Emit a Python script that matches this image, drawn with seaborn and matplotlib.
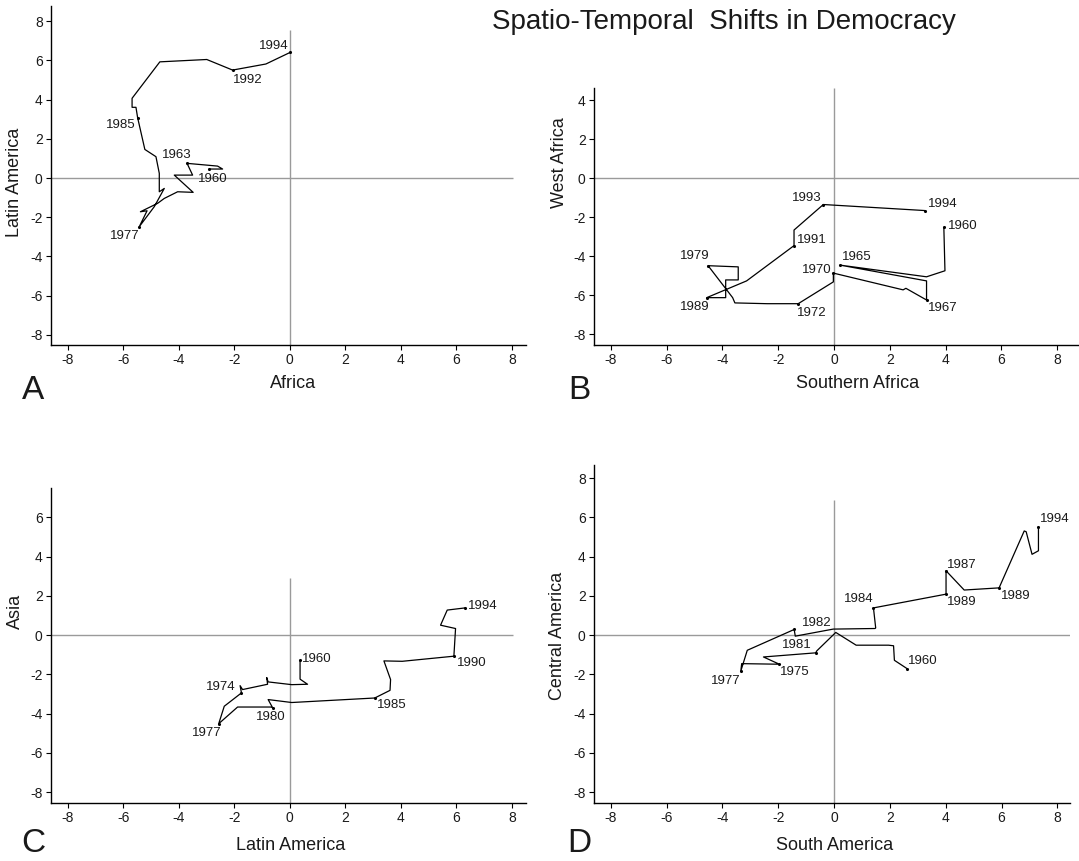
import matplotlib
matplotlib.use("Agg")
import matplotlib.pyplot as plt
import seaborn as sns
import pandas as pd

# ---------------- data ----------------
A_x = [-2.90, -2.42, -2.60, -3.70, -3.50, -4.16, -3.48, -4.04, -4.52, -4.76, -5.38, -5.14, -5.42, -4.88,
       -4.52, -4.70, -4.70, -4.82, -5.22, -5.48, -5.54, -5.68, -5.68, -4.68, -2.99, -2.06, -0.86, 0.01]
A_y = [0.46, 0.46, 0.61, 0.75, 0.15, 0.15, -0.73, -0.70, -1.04, -1.29, -1.72, -1.67, -2.48, -1.46,
       -0.53, -0.70, 0.24, 1.09, 1.46, 3.08, 3.61, 3.61, 4.07, 5.93, 6.05, 5.51, 5.82, 6.41]
A_lab_year = ["1960", "1963", "1977", "1985", "1992", "1994"]
A_lab_idx = [0, 3, 12, 19, 25, 27]

B_x = [3.94, 3.98, 3.32, 0.22, 3.32, 3.32, 2.58, 2.48, -0.02, -0.02, -1.28, -2.39, -3.55, -3.63,
       -4.51, -3.43, -3.43, -3.88, -3.88, -4.56, -3.13, -1.43, -1.43, -0.38, 3.26]
B_y = [-2.51, -4.74, -5.05, -4.45, -5.26, -6.24, -5.64, -5.72, -4.86, -5.31, -6.43, -6.43, -6.39, -6.12,
       -4.48, -4.54, -5.21, -5.21, -6.12, -6.12, -5.26, -3.45, -2.65, -1.34, -1.65]
B_lab_year = ["1960", "1965", "1967", "1970", "1972", "1979", "1989", "1991", "1993", "1994"]
B_lab_idx = [0, 3, 5, 8, 10, 14, 19, 21, 23, 24]

C_x = [0.37, 0.37, 0.64, 0.07, -0.78, -0.83, -0.80, -1.70, -1.79, -1.74, -2.36, -2.56, -1.88, -0.68,
       -0.62, -0.78, 0.07, 3.06, 3.61, 3.63, 3.39, 4.05, 5.91, 5.97, 5.43, 5.67, 6.31]
C_y = [-1.28, -2.24, -2.50, -2.52, -2.38, -2.16, -2.50, -2.77, -2.57, -2.94, -3.62, -4.51, -3.66, -3.66,
       -3.69, -3.28, -3.43, -3.20, -2.81, -2.26, -1.31, -1.33, -1.07, 0.34, 0.51, 1.28, 1.39]
C_lab_year = ["1960", "1974", "1977", "1980", "1985", "1990", "1994"]
C_lab_idx = [0, 9, 11, 14, 17, 22, 26]

D_x = [2.61, 2.16, 2.13, 1.95, 0.79, 0.06, -0.62, -0.66, -2.53, -1.96, -3.31, -3.34, -3.11, -1.43,
       -1.39, -0.03, 1.47, 1.49, 1.41, 4.01, 4.01, 4.66, 5.91, 6.81, 6.88, 7.09, 7.32, 7.32]
D_y = [-1.70, -1.28, -0.54, -0.51, -0.51, 0.14, -0.80, -0.90, -1.11, -1.48, -1.45, -1.82, -0.77, 0.29,
       -0.05, 0.31, 0.34, 0.37, 1.39, 2.09, 3.28, 2.30, 2.41, 5.31, 5.27, 4.12, 4.30, 5.53]
D_lab_year = ["1960", "1981", "1975", "1977", "1982", "1984", "1989", "1987", "1989", "1994"]
D_lab_idx = [0, 7, 9, 11, 13, 18, 19, 20, 22, 27]

x_titles = ["Africa", "Southern Africa", "Latin America", "South America"]
y_titles = ["Latin America", "West Africa", "Asia", "Central America"]
panel_letters = ["A", "B", "C", "D"]
tick_vals_x = [-8, -6, -4, -2, 0, 2, 4, 6, 8]
tick_vals_y = [[-8, -6, -4, -2, 0, 2, 4, 6, 8], [-8, -6, -4, -2, 0, 2, 4],
               [-8, -6, -4, -2, 0, 2, 4, 6], [-8, -6, -4, -2, 0, 2, 4, 6, 8]]
title = "Spatio-Temporal  Shifts in Democracy"

# ---------------- styling / layout ----------------
sns.set_theme(style="ticks")
plt.rcParams["font.family"] = ["Liberation Sans", "DejaVu Sans"]
plt.rcParams["axes.unicode_minus"] = False
TXT = "#1a1a1a"

W, H = 1079, 861
fig = plt.figure(figsize=(W / 100, H / 100), dpi=100)


def fx(px):
    return px / W


def fy(py):
    return 1 - py / H


# pixel boxes: left, right, top, bottom ; xlim ; ylim
boxes = [
    (51, 525.8, 6, 345, (-8.6, 8.5), (-8.52, 8.78)),
    (594, 1097, 88, 345, (-8.6, 9.43), (-8.55, 4.64)),
    (51, 525.8, 488, 803, (-8.6, 8.5), (-8.55, 7.5)),
    (594, 1070, 465, 803, (-8.6, 8.45), (-8.55, 8.67)),
]
# zero-line extents (data)
hline_right = [8.05, 9.43, 8.05, 8.45]
vline_top = [7.55, 4.64, 2.9, 6.9]

xlab_center = [(293, 384), (858, 384), (291, 845), (835, 845)]
ylab_center = [(15, 182), (559, 163), (15, 611), (558, 636)]
letter_center = [(33, 390), (579, 390), (33, 843), (579, 843)]

paths = [(A_x, A_y, A_lab_year, A_lab_idx),
         (B_x, B_y, B_lab_year, B_lab_idx),
         (C_x, C_y, C_lab_year, C_lab_idx),
         (D_x, D_y, D_lab_year, D_lab_idx)]

# label offsets in pixels (dx, dy up)
offsets = [
    [(3, -10), (-10, 8), (-15, -9), (-17, -7), (15, -10), (-16, 6)],
    [(19, 1), (17, 8), (16, -8), (-17, 3), (14, -9), (-13, 10), (-12, -9), (18, 6), (-17, 7), (18, 7)],
    [(17, 1), (-21, 6), (-12, -9), (-2, -9), (17, -7), (18, -7), (18, 2)],
    [(16, 8), (-19, 8), (15, -8), (-15, -10), (23, 6), (-15, 9), (16, -8), (16, 6), (17, -8), (16, 8)],
]

for i, (l, r, t, b, xl, yl) in enumerate(boxes):
    ax = fig.add_axes([fx(l), fy(b), fx(r) - fx(l), (b - t) / H])
    ax.set_xlim(*xl)
    ax.set_ylim(*yl)
    # reference lines
    ax.hlines(0, xl[0], hline_right[i], color="#9a9a9a", lw=1.0, zorder=1)
    ax.vlines(0, yl[0], vline_top[i], color="#9a9a9a", lw=1.0, zorder=1)

    xs, ys, years, idx = paths[i]
    df = pd.DataFrame({"x": xs, "y": ys, "order": range(len(xs))})
    sns.lineplot(data=df, x="x", y="y", sort=False, estimator=None, color="black",
                 lw=0.9, ax=ax, zorder=3)
    lab_df = df.iloc[idx]
    sns.scatterplot(data=lab_df, x="x", y="y", color="black", s=5, linewidth=0, ax=ax, zorder=4)
    for (yr, j), (dx, dy) in zip(zip(years, idx), offsets[i]):
        ax.annotate(yr, (xs[j], ys[j]), xytext=(dx, dy), textcoords="offset pixels",
                    ha="center", va="center", fontsize=9.5, color=TXT, zorder=5)

    ax.set_xticks(tick_vals_x)
    ax.set_yticks(tick_vals_y[i])
    ax.tick_params(direction="out", length=3.5, width=0.8, colors="black",
                   labelsize=10, labelcolor=TXT, pad=2.5)
    sns.despine(ax=ax)
    for s in ("left", "bottom"):
        ax.spines[s].set_color("black")
        ax.spines[s].set_linewidth(1.0)
    ax.set_xlabel(x_titles[i], fontsize=13, color=TXT)
    ax.set_ylabel(y_titles[i], fontsize=13, color=TXT)
    cx, cy = xlab_center[i]
    ax.xaxis.set_label_coords((cx - l) / (r - l), -(cy - b) / (b - t))
    ax.xaxis.label.set_va("center")
    cx, cy = ylab_center[i]
    ax.yaxis.set_label_coords(-(l - cx) / (r - l), (b - cy) / (b - t))
    ax.yaxis.label.set_va("center")
    lx, ly = letter_center[i]
    fig.text(fx(lx), fy(ly), panel_letters[i], fontsize=24, color=TXT, ha="center", va="center")

fig.text(fx(723.5), fy(22), title, fontsize=20, color=TXT, ha="center", va="center")

fig.savefig("out.png", dpi=100)
